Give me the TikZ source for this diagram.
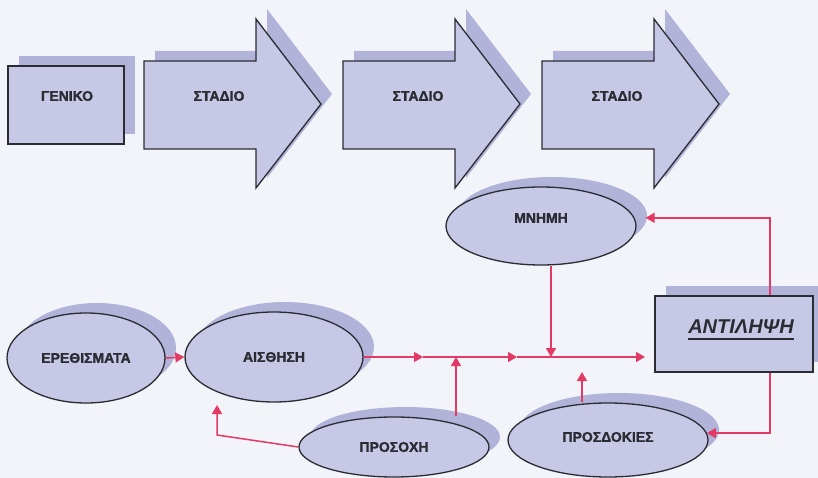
\documentclass[tikz,border=0pt]{standalone}
\usepackage{fontspec}
\setmainfont{Liberation Sans}[BoldFeatures={FakeBold=1.5}]
\usetikzlibrary{arrows.meta,shapes.geometric,shadows}
\definecolor{bgc}{HTML}{F3F4F9}
\definecolor{lila}{HTML}{C6C8E5}
\definecolor{lilashade}{HTML}{B1B3D9}
\definecolor{linkred}{HTML}{E23A64}
\definecolor{ink}{HTML}{2B2B33}
\tikzset{
  outlined/.style={draw=ink, line width=1.3pt, fill=lila},
  shadowed/.style={drop shadow={shadow xshift=11pt, shadow yshift=10pt, fill=lilashade, opacity=1}},
  bubble/.style={ellipse, outlined, shadowed, inner sep=0pt},
  lbl/.style={font=\bfseries\fontsize{14}{16}\selectfont, text=ink},
  link/.style={draw=linkred, line width=1.5pt, -{Triangle[length=9pt,width=10pt]}},
}
\begin{document}
\begin{tikzpicture}[x=1pt,y=-1pt]
    \fill[bgc] (0,0) rectangle (818,478);
    \useasboundingbox (0,0) rectangle (818,478);

    % top row
    \node[rectangle, outlined, shadowed, minimum width=116pt, minimum height=78pt] (geniko) at (66,105) {};
    \node[lbl] (geniko text) at (67,96) {ΓΕΝΙΚΟ};
    \foreach \x/\n in {144/1, 343/2, 542/3} {
        \fill[lilashade, xshift=11pt, yshift=10pt] (\x,61) -- (\x+112,61) -- (\x+112,19)
            -- (\x+177,104) -- (\x+112,188) -- (\x+112,149) -- (\x,149) -- cycle;
        \path[outlined] (\x,61) -- (\x+112,61) -- (\x+112,19)
            -- (\x+177,104) -- (\x+112,188) -- (\x+112,149) -- (\x,149) -- cycle;
        \node[lbl] (stadio\n) at (\x+75,96) {ΣΤΑΔΙΟ};
    }

    % bubbles
    \node[bubble, minimum width=158pt, minimum height=90pt, label={[lbl]center:ΕΡΕΘΙΣΜΑΤΑ}] (erethi) at (86,358) {};
    \node[bubble, minimum width=178pt, minimum height=90pt, label={[lbl]center:ΑΙΣΘΗΣΗ}] (aisth) at (274,357) {};
    \node[bubble, minimum width=190pt, minimum height=78pt, label={[lbl,yshift=8pt]center:ΜΝΗΜΗ}] (mnimi) at (541,226) {};
    \node[bubble, minimum width=190pt, minimum height=60pt, label={[lbl]center:ΠΡΟΣΟΧΗ}] (prosoxi) at (394,447) {};
    \node[bubble, minimum width=200pt, minimum height=74pt, label={[lbl,yshift=3pt]center:ΠΡΟΣΔΟΚΙΕΣ}] (prosd) at (608,440) {};

    \node[rectangle, outlined, shadowed, minimum width=158pt, minimum height=76pt] (antil) at (734,334) {};
    \node[font=\bfseries\itshape\fontsize{20}{22}\selectfont, text=ink, inner sep=0pt] (antil text) at (741,327) {ΑΝΤΙΛΗΨΗ};
    \draw[ink, line width=2.6pt] ([yshift=-5pt]antil text.base west) -- ([yshift=-5pt]antil text.base east);

    % connectors
    \coordinate (m1) at (423,357);
    \coordinate (m2) at (517,357);
    \coordinate (m3) at (645,357);
    \coordinate (j1) at (456,357);
    \coordinate (j2) at (551,357);
    \coordinate (j3) at (582,372);
    \coordinate (k1) at (217,435);
    \coordinate (k2) at (217,405);

    \draw[link] (erethi.east) -- (aisth.west);
    \draw[link] (aisth.east) -- (m1);
    \draw[link] (m1) -- (m2);
    \draw[link] (m2) -- (m3);
    \draw[link] (prosoxi.north -| j1) -- (j1);
    \draw[link] (mnimi.south -| j2) -- (j2);
    \draw[link] (prosd.north -| j3) -- (j3);
    \draw[link] ([xshift=36pt]antil.north) |- ([xshift=11pt]mnimi.5);
    \draw[link] ([xshift=36pt]antil.south) |- (prosd.4);
    \draw[link] (prosoxi.west) -- (k1) -- (k2);
\end{tikzpicture}
\end{document}
